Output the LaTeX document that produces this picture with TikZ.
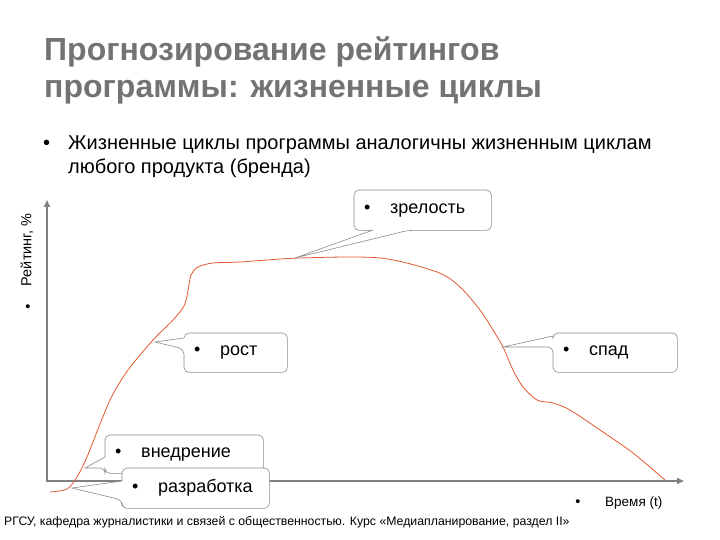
\documentclass[tikz,border=0pt]{standalone}
\usepackage{fontspec}
\setmainfont{Liberation Sans}
\newfontfamily\titlefont[FakeStretch=1.0]{Liberation Sans}
\newfontfamily\bodyfont[FakeStretch=1.0]{Liberation Sans}
\usetikzlibrary{arrows.meta,calc}
\definecolor{titlegray}{RGB}{115,115,115}
\definecolor{axisgray}{RGB}{128,128,128}
\definecolor{boxgray}{RGB}{140,140,140}
\definecolor{curvecol}{RGB}{226,88,48}
\tikzset{
  titletext/.style={anchor=base west, inner sep=0pt, text=titlegray, font=\titlefont\bfseries\fontsize{32}{36}\selectfont},
  bodytext/.style={anchor=base west, inner sep=0pt, font=\bodyfont\fontsize{20}{24}\selectfont},
  smalltext/.style={inner sep=0pt, font=\fontsize{14.5}{16}\selectfont},
  foottext/.style={anchor=base west, inner sep=0pt, font=\fontsize{12.3}{14}\selectfont},
  axis/.style={draw=axisgray, line width=2.5pt, -{Triangle[length=7pt,width=6pt]}},
  lifecurve/.style={draw=curvecol, line width=0.8pt},
  cbox/.style={draw=boxgray, fill=white, line width=0.6pt},
  clabel/.style={inner xsep=10pt, inner ysep=0pt, anchor=north west, align=left, font=\fontsize{18}{22}\selectfont},
  ctext/.style={anchor=west, inner xsep=10pt, font=\fontsize{18}{22}\selectfont},
}
\newcommand{\cbul}[1]{\makebox[26pt][l]{\textbullet}#1}
\begin{document}
\begin{tikzpicture}[x=1pt,y=-1pt]
\useasboundingbox (0,0) rectangle (720,540);
% title
\node[titletext] (t1) at (44,61) {Прогнозирование рейтингов};
\node[titletext] (t2) at (44,98) {программы: жизненные циклы};
% body bullet
\node[bodytext] (b0) at (43,150) {\textbullet};
\node[bodytext] (b1) at (68,150) {Жизненные циклы программы аналогичны жизненным циклам};
\node[bodytext] (b2) at (68,174) {любого продукта (бренда)};
% axes
\coordinate (O) at (47,481);
\coordinate (Ytop) at (47,200);
\coordinate (Xend) at (684,481);
\draw[axis] (O) -- (Ytop);
\draw[axis] ($(O)+(-1.25,0)$) -- (Xend);
% axis labels
\node[smalltext, rotate=90] (ylab) at (27,250) {Рейтинг, \%};
\node[smalltext] (ybul) at (28,308) {\textbullet};
\node[smalltext] (xbul) at (578,503) {\textbullet};
\node[smalltext, font=\fontsize{13.5}{15}\selectfont, anchor=west] (xlab) at (605,503) {Время (t)};
% curve
\draw[lifecurve] plot[smooth, tension=0.5] coordinates {
 (50,492) (67,489) (77,477) (87,457) (100,424) (112,396) (128,370) (153,340) (173,320)
 (184,306) (188,291) (191,275) (198,267) (213,263) (240,262) (300,258) (380,258)
 (437,272) (460,287) (480,310) (493,330) (503,347) (513,370) (523,387) (537,400)
 (553,403) (570,410) (600,430) (633,453) (665,480)};
% tips
\coordinate (tipZ) at (295,258);
\coordinate (tipR) at (155,342);
\coordinate (tipS) at (503,347);
\coordinate (tipV) at (85,468);
\coordinate (tipD) at (72,488);
% callout frames
\node[clabel, minimum width=137pt, minimum height=40pt] (zr) at (354,190) {};
\node[clabel, minimum width=103pt, minimum height=39pt] (ro) at (184,333) {};
\node[clabel, minimum width=124pt, minimum height=39pt] (sp) at (553,333) {};
\node[clabel, minimum width=158pt, minimum height=38pt] (vn) at (105,435) {};
\node[clabel, minimum width=147pt, minimum height=40pt] (rz) at (122,468) {};
% зрелость
\path[cbox] [rounded corners=5pt] (zr.north west) -- (zr.north east) -- (zr.south east)
  -- ($(zr.south west)+(54,0)$) [sharp corners] -- (tipZ) -- ($(zr.south west)+(18,0)$)
  [rounded corners=5pt] -- (zr.south west) -- cycle;
\node[ctext] (zrt) at (zr.west) {\cbul{зрелость}};
% рост
\path[cbox] [rounded corners=5pt] (ro.north west) -- (ro.north east) -- (ro.south east)
  -- (ro.south west) -- ($(ro.north west)+(0,16)$) [sharp corners] -- (tipR)
  -- ($(ro.north west)+(0,5)$) [rounded corners=5pt] -- cycle;
\node[ctext] (rot) at (ro.west) {\cbul{рост}};
% спад
\path[cbox] [rounded corners=5pt] (sp.north west) -- (sp.north east) -- (sp.south east)
  -- (sp.south west) -- ($(sp.north west)+(0,14)$) [sharp corners] -- (tipS)
  -- ($(sp.north west)+(0,3)$) [rounded corners=5pt] -- cycle;
\node[ctext] (spt) at (sp.west) {\cbul{спад}};
% внедрение
\path[cbox] [rounded corners=5pt] (vn.north west) -- (vn.north east) -- (vn.south east)
  -- (vn.south west) -- ($(vn.north west)+(0,33)$) [sharp corners] -- (tipV)
  -- ($(vn.north west)+(0,22)$) [rounded corners=5pt] -- cycle;
\node[ctext] (vnt) at (vn.west) {\cbul{внедрение}};
% разработка
\path[cbox] [rounded corners=5pt] (rz.north west) -- (rz.north east) -- (rz.south east)
  -- (rz.south west) -- ($(rz.north west)+(0,32)$) [sharp corners] -- (tipD)
  -- ($(rz.north west)+(0,13)$) [rounded corners=5pt] -- cycle;
\node[ctext] (rzt) at (rz.west) {\cbul{разработка}};
% footer
\node[foottext] (foot) at (4,525) {РГСУ, кафедра журналистики и связей с общественностью. Курс «Медиапланирование, раздел II»};
\end{tikzpicture}
\end{document}
